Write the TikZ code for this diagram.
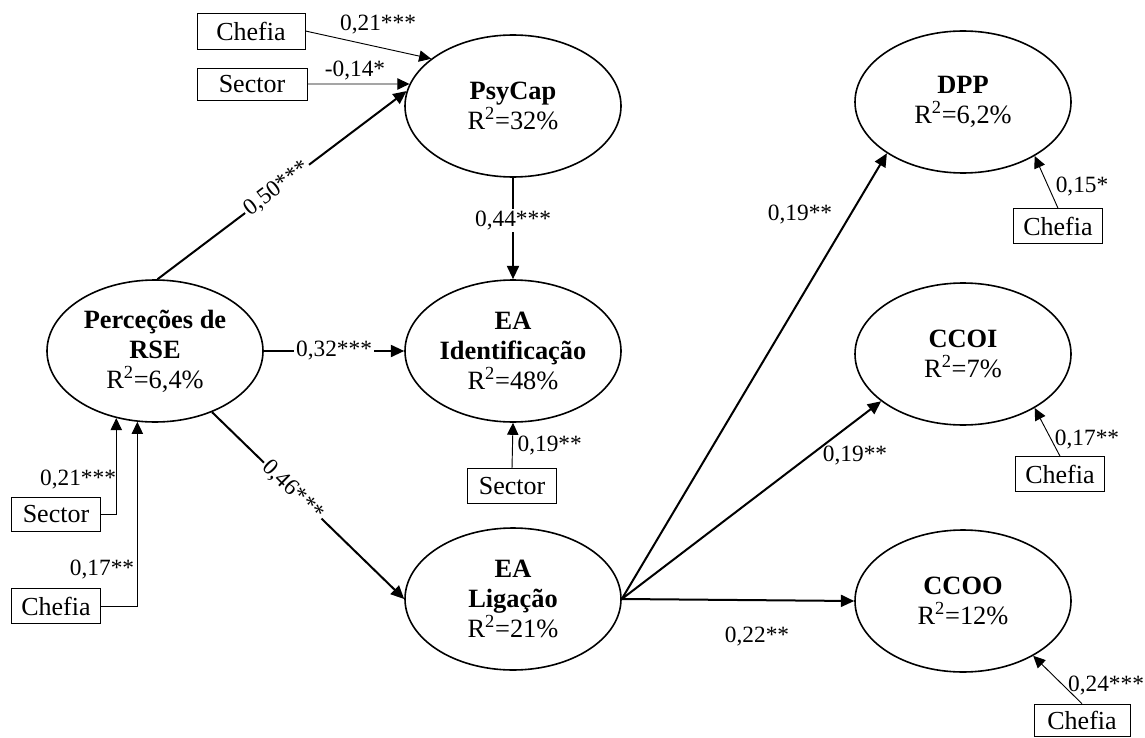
\documentclass[tikz,border=0pt]{standalone}
\usepackage{fontspec}
\setmainfont{Liberation Serif}
\usetikzlibrary{arrows.meta,shapes.geometric,calc}
\begin{document}
\begin{tikzpicture}[x=0.75pt,y=-0.75pt,
  lat/.style={ellipse,draw,line width=1.2pt,minimum width=162pt,minimum height=106.5pt,inner sep=0pt,align=center,font=\fontsize{19.8}{22.5}\selectfont},
  obs/.style={rectangle,draw,line width=0.7pt,minimum width=66.5pt,minimum height=26pt,inner sep=0pt,font=\fontsize{19.5}{22}\selectfont},
  mainarr/.style={line width=1.5pt,-{Triangle[length=10pt,width=9pt]}},
  covarr/.style={line width=0.7pt,-{Triangle[length=9pt,width=8.5pt]}},
  lab/.style={font=\fontsize{17.5}{20}\selectfont,inner sep=1pt},
  onl/.style={lab,fill=white,inner sep=1.5pt}]
\useasboundingbox (0,0) rectangle (1145,738);
\fill[white] (0,0) rectangle (1145,738);

% latent variables
\node[lat] (rse)  at (155,351) {\textbf{Perceções de}\\\textbf{RSE}\\R\textsuperscript{2}=6,4\%};
\node[lat] (psy)  at (513,106) {\textbf{PsyCap}\\R\textsuperscript{2}=32\%};
\node[lat] (eai)  at (513,351) {\textbf{EA}\\\textbf{Identificação}\\R\textsuperscript{2}=48\%};
\node[lat] (eal)  at (513,599) {\textbf{EA}\\\textbf{Ligação}\\R\textsuperscript{2}=21\%};
\node[lat] (dpp)  at (963,102) {\textbf{DPP}\\R\textsuperscript{2}=6,2\%};
\node[lat] (ccoi) at (963,354) {\textbf{CCOI}\\R\textsuperscript{2}=7\%};
\node[lat] (ccoo) at (963,601) {\textbf{CCOO}\\R\textsuperscript{2}=12\%};

% observed covariates
\node[obs,minimum width=81pt,minimum height=27pt] (ch1) at (251,31) {Chefia};
\node[obs,minimum width=82.5pt,minimum height=24pt] (se1) at (252,84) {Sector};
\node[obs] (se2) at (512,486) {Sector};
\node[obs] (se3) at (56,514.5) {Sector};
\node[obs] (ch2) at (56,606) {Chefia};
\node[obs] (ch3) at (1058,226) {Chefia};
\node[obs] (ch4) at (1060,474) {Chefia};
\node[obs,minimum width=72pt,minimum height=24.5pt] (ch5) at (1082,720.5) {Chefia};

% structural paths
\draw[mainarr] (rse.88) -- node[onl,sloped,pos=0.48] (l50) {0,50***} (psy.172);
\draw[mainarr] (psy.south) -- node[onl,pos=0.42] (l44) {0,44***} (eai.north);
\draw[mainarr] (rse.east) -- node[onl,pos=0.5] (l32) {0,32***} (eai.west);
\draw[mainarr] (rse.313) -- node[onl,sloped,pos=0.42] (l46) {0,46***} (eal.west);
\draw[mainarr] (eal.east) -- (dpp.214);
\draw[mainarr] (eal.east) -- (ccoi.210);
\draw[mainarr] (eal.east) -- (ccoo.west);

% covariate paths
\draw[covarr] (ch1.east) -- (psy.150);
\draw[covarr] (se1.east) -- (psy.168);
\draw[covarr] (se2.north) -- (eai.south);
\draw[covarr] (se3.east) -| (rse.240);
\draw[covarr] (ch2.east) -| (rse.256);
\draw[covarr] (ch3.north) -- (dpp.323);
\draw[covarr] (ch4.north) -- (ccoi.323);
\draw[covarr] (ch5.north) -- (ccoo.322);

% labels
\node[lab] (l21a) at (378,25) {0,21***};
\node[lab] (l14)  at (355,71) {-0,14*};
\node[lab,anchor=west] (l19a) at (516,446) {0,19**};
\node[lab] (l21b) at (78,480) {0,21***};
\node[lab] (l17a) at (102,570) {0,17**};
\node[lab] (l19b) at (800,215) {0,19**};
\node[lab] (l19c) at (855,456) {0,19**};
\node[lab] (l22)  at (757,637) {0,22**};
\node[lab] (l15)  at (1082,187) {0,15*};
\node[lab] (l17b) at (1087,440) {0,17**};
\node[lab] (l24)  at (1106,686) {0,24***};
\end{tikzpicture}
\end{document}
